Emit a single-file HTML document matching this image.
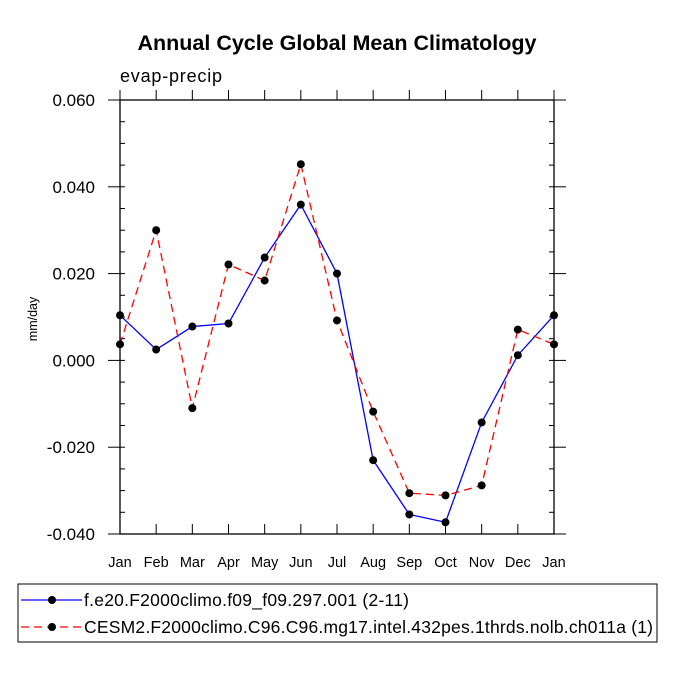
<!DOCTYPE html>
<html><head><meta charset="utf-8"><style>
body{margin:0;background:#fff;}
svg{display:block;font-family:"Liberation Sans",Arial,sans-serif;}
</style></head><body>
<svg id="chart" width="675" height="675" viewBox="0 0 675 675">
<text x="337" y="50" text-anchor="middle" font-size="21.5" font-weight="bold">Annual Cycle Global Mean Climatology</text>
<text x="120" y="82" font-size="18" textLength="102">evap-precip</text>
<text x="0" y="0" transform="translate(37,319) rotate(-90)" text-anchor="middle" font-size="12.5">mm/day</text>
<g id="axes"></g>
<g id="series"></g>
<rect x="18" y="584" width="639" height="58" fill="none" stroke="#000" stroke-width="1"/>
<g>
<line x1="21" y1="600" x2="82" y2="600" stroke="#0000ff" stroke-width="1.3"/>
<circle cx="52" cy="600" r="4" fill="#000"/>
<text x="84" y="606" font-size="17.5" textLength="325">f.e20.F2000climo.f09_f09.297.001 (2-11)</text>
</g>
<g>
<line x1="21" y1="627" x2="82" y2="627" stroke="#ff0000" stroke-width="1.3" stroke-dasharray="8,5"/>
<circle cx="52" cy="627" r="4" fill="#000"/>
<text x="84" y="633" font-size="17.5" textLength="569">CESM2.F2000climo.C96.C96.mg17.intel.432pes.1thrds.nolb.ch011a (1)</text>
</g>
</svg>
<script>
const months = ["Jan","Feb","Mar","Apr","May","Jun","Jul","Aug","Sep","Oct","Nov","Dec","Jan"];
const blueValues = [0.0104,0.0025,0.0078,0.0085,0.0237,0.0359,0.0200,-0.0230,-0.0355,-0.0373,-0.0143,0.0012,0.0104];
const redValues = [0.0037,0.0300,-0.0110,0.0221,0.0184,0.0452,0.0092,-0.0118,-0.0306,-0.0311,-0.0288,0.0071,0.0037];
const yTicks = [0.06,0.04,0.02,0,-0.02,-0.04];
const yTickLabels = ["0.060","0.040","0.020","0.000","-0.020","-0.040"];
const L=120,R=554,T=100,B=534,yMin=-0.04,yMax=0.06;
const xs=i=>L+(R-L)*i/(months.length-1);
const ys=v=>B-(v-yMin)/(yMax-yMin)*(B-T);
const NS="http://www.w3.org/2000/svg";
function mk(tag,attrs,parent){const e=document.createElementNS(NS,tag);for(const k in attrs)e.setAttribute(k,attrs[k]);parent.appendChild(e);return e;}
const ax=document.getElementById('axes');
const frame=mk('rect',{x:L,y:T,width:R-L,height:B-T,fill:'none',stroke:'#000','stroke-width':1.3},ax);


months.forEach((m,i)=>{
  const x=xs(i);
  mk('line',{x1:x,y1:B,x2:x,y2:B-10,stroke:'#000'},ax);
  mk('line',{x1:x,y1:T,x2:x,y2:T-10,stroke:'#000'},ax);
  const t=mk('text',{x:x,y:567,'text-anchor':'middle','font-size':14.5},ax);
  t.textContent=m;
  
  
});
for(let v=yMin;v<=yMax+1e-9;v+=0.005){
  const y=ys(v);
  mk('line',{x1:L,y1:y,x2:L+5,y2:y,stroke:'#000'},ax);
  mk('line',{x1:R,y1:y,x2:R-5,y2:y,stroke:'#000'},ax);
}
yTicks.forEach((v,i)=>{
  const y=ys(v);
  mk('line',{x1:L,y1:y,x2:L-12,y2:y,stroke:'#000'},ax);
  mk('line',{x1:R,y1:y,x2:R+12,y2:y,stroke:'#000'},ax);
  const t=mk('text',{x:L-25,y:y+6,'text-anchor':'end','font-size':17},ax);
  t.textContent=yTickLabels[i];
  
  
});
const sg=document.getElementById('series');
function drawSeries(vals,color,dash,name){
  const g=mk('g',{},sg);
  
  
  const pts=vals.map((v,i)=>xs(i)+','+ys(v)).join(' ');
  const a={points:pts,fill:'none',stroke:color,'stroke-width':1.3};
  if(dash)a['stroke-dasharray']=dash;
  mk('polyline',a,g);
  vals.forEach((v,i)=>{
    const c=mk('circle',{cx:xs(i),cy:ys(v),r:4,fill:'#000'},g);
    
    
  });
}
drawSeries(blueValues,'#0000ff',null,'series-blue');
drawSeries(redValues,'#ff0000','8,5','series-red');
</script>
</body></html>
